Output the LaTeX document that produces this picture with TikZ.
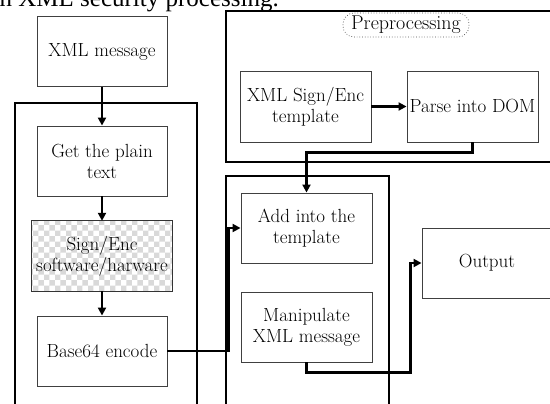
\documentclass[tikz,border=0pt]{standalone}
\usepackage{fontspec}
\newfontfamily\capfont{Liberation Serif}
\usetikzlibrary{arrows.meta,patterns,calc}
\begin{document}
\begin{tikzpicture}[x=1pt,y=-1pt,
  txt/.style={font=\fontsize{19}{21}\selectfont},
  box/.style={draw=black!75,line width=0.9pt,fill=white,minimum width=130pt,minimum height=70pt,align=center,inner sep=1pt,txt},
  frame/.style={draw=black,line width=2.8pt},
  conn/.style={line width=2.2pt,-{Triangle[length=8pt,width=8pt]}}]
\useasboundingbox (0,0) rectangle (550,404);
\clip (0,0) rectangle (550,404);
\fill[white] (0,0) rectangle (550,404);
% caption (cropped)
\node[anchor=base east,inner sep=0pt,font=\capfont\fontsize{25}{28}\selectfont] (cap) at (279,6.5) {n XML security processing.};
% frames
\draw[frame] (15,103) rectangle (197,460);
\draw[frame] (226,176) rectangle (389,460);
\draw[frame] (226,11) rectangle (620,162);
% preprocessing label
\node[draw=black!70,dotted,line width=0.7pt,rounded corners=11pt,minimum width=126pt,minimum height=24pt,inner sep=1pt,font=\fontsize{20}{22}\selectfont] (pre) at (406,25) {Preprocessing};
% left column
\node[box] (xml) at (102,51.5) {XML message};
\node[box] (get) at (102,161) {Get the plain\\text};
\node[minimum width=140pt,minimum height=70pt,inner sep=0pt] (sign) at (102,256) {};
\fill[white] (sign.north west) rectangle (sign.south east);
\fill[pattern=checkerboard,pattern color=gray!30] (sign.north west) rectangle (sign.south east);
\draw[draw=black!80,line width=1.1pt] (sign.north west) rectangle (sign.south east);
\node[align=center,inner sep=1pt,txt] (signtxt) at (sign.center) {Sign/Enc\\software/harware};
\node[box] (base) at (102,351) {Base64 encode};
% preprocessing boxes
\node[box,minimum width=131pt,minimum height=71pt] (tmpl) at (305.5,106.5) {XML Sign/Enc\\template};
\node[box,minimum width=131pt,minimum height=71pt] (parse) at (472.5,106.5) {Parse into DOM};
% middle column
\node[box,minimum width=131pt] (add) at (306.5,228) {Add into the\\template};
\node[box,minimum width=131pt] (manip) at (306.5,327) {Manipulate\\XML message};
% output
\node[box,minimum width=150pt] (out) at (497,263) {\hspace*{-20pt}Output};
% connectors
\draw[conn] (xml.south) -- (get.north);
\draw[conn] (get.south) -- (sign.north);
\draw[conn] (sign.south) -- (base.north);
\draw[conn] (tmpl.east) -- (parse.west);
\coordinate (c1) at ($(add.west)+(-12,0)$);
\draw[conn] (base.east) -| (c1) -- (add.west);
\coordinate (c2) at ($(parse.south)+(0,10)$);
\draw[conn] (parse.south) -- (c2) -| (add.north);
\coordinate (c3) at ($(manip.south)+(0,10)$);
\coordinate (c4) at ($(out.west)+(-11,0)$);
\draw[conn] (manip.south) -- (c3) -| (c4) -- (out.west);
\end{tikzpicture}
\end{document}
